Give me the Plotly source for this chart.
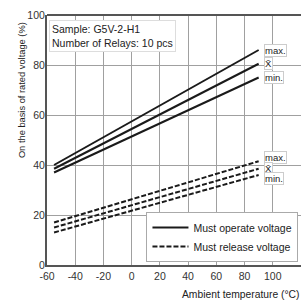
import plotly.graph_objects as go

temps = [-55, 90]
operate_max = [40, 86]
operate_avg = [38.5, 80.5]
operate_min = [37, 75]
release_max = [17, 41.5]
release_avg = [15, 38.5]
release_min = [13, 36]

x_ticks = [-60, -40, -20, 0, 20, 40, 60, 80, 100, 120]
x_tick_text = ["-60", "-40", "-20", "0", "20", "40", "60", "80", "100", "120"]
y_ticks = [0, 20, 40, 60, 80, 100]

FONT = "Liberation Sans, Arial, sans-serif"
DASH = "5px,2px"
fig = go.Figure()

series = [
    (operate_max, "solid", "Must operate voltage", "op", True),
    (operate_avg, "solid", "Must operate voltage", "op", False),
    (operate_min, "solid", "Must operate voltage", "op", False),
    (release_max, DASH, "Must release voltage", "rel", True),
    (release_avg, DASH, "Must release voltage", "rel", False),
    (release_min, DASH, "Must release voltage", "rel", False),
]
for ys, dash, name, grp, show in series:
    fig.add_trace(go.Scatter(
        x=temps, y=ys, mode="lines", name=name, legendgroup=grp, showlegend=show,
        line=dict(color="#1a1a1a", width=2, dash=dash),
    ))

labels = [
    ("max.", operate_max[1]), ("X\u0304", operate_avg[1]), ("min.", operate_min[1]),
    ("max.", release_max[1] + 1.5), ("X\u0304", release_avg[1]), ("min.", release_min[1] - 1.5),
]
for txt, yv in labels:
    fig.add_annotation(x=93.5, y=yv, xref="x", yref="y", text=txt, showarrow=False,
                       xanchor="left", yanchor="middle",
                       font=dict(family=FONT, size=9.5, color="#222"),
                       bgcolor="white", bordercolor="#cccccc", borderwidth=1, borderpad=0)

fig.add_annotation(x=0.006, y=0.98, xref="paper", yref="paper",
                   text="Sample: G5V-2-H1<br>Number of Relays: 10 pcs",
                   showarrow=False, xanchor="left", yanchor="top", align="left",
                   font=dict(family=FONT, size=10.5, color="#222"),
                   bgcolor="white", bordercolor="#dddddd", borderwidth=1, borderpad=2)

fig.add_annotation(x=1.0, y=-0.118, xref="paper", yref="paper",
                   text="Ambient temperature (°C)", showarrow=False,
                   xanchor="right", yanchor="middle",
                   font=dict(family=FONT, size=10.3, color="#222"))

fig.add_annotation(x=-0.098, y=0.70, xref="paper", yref="paper",
                   text="On the basis of rated voltage (%)", showarrow=False,
                   textangle=-90, xanchor="center", yanchor="middle",
                   font=dict(family=FONT, size=9.3, color="#222"))

fig.update_layout(
    width=301, height=300,
    margin=dict(l=47, r=0, t=15, b=35),
    paper_bgcolor="white", plot_bgcolor="white",
    font=dict(family=FONT, size=10, color="#333"),
    legend=dict(x=0.99, y=0.012, xanchor="right", yanchor="bottom",
                bgcolor="white", bordercolor="#aaaaaa", borderwidth=1,
                font=dict(family=FONT, size=10.5, color="#222"),
                tracegroupgap=0, itemwidth=36),
    xaxis=dict(range=[-60, 120], tickvals=x_ticks, ticktext=x_tick_text, ticks="",
               ticklen=0, showgrid=True, automargin=False,
               gridcolor="#a0a0a0", gridwidth=1, showline=True, linecolor="#555",
               linewidth=2, zeroline=False,
               tickfont=dict(family=FONT, size=10.5, color="#333")),
    yaxis=dict(range=[0, 100], tickvals=y_ticks, showgrid=True, automargin=False,
               gridcolor="#a0a0a0", gridwidth=1, showline=True, linecolor="#555",
               linewidth=2, zeroline=False, ticks="", ticklen=0, ticklabelstandoff=-2,
               tickfont=dict(family=FONT, size=10.5, color="#333")),
    shapes=[dict(type="line", xref="paper", yref="paper", x0=0, x1=1, y0=1, y1=1,
                 line=dict(color="#555", width=2))],
)

fig.write_html("out.html", config={"displayModeBar": False},
               post_script="document.body.style.margin='0';document.body.style.overflow='hidden';")
